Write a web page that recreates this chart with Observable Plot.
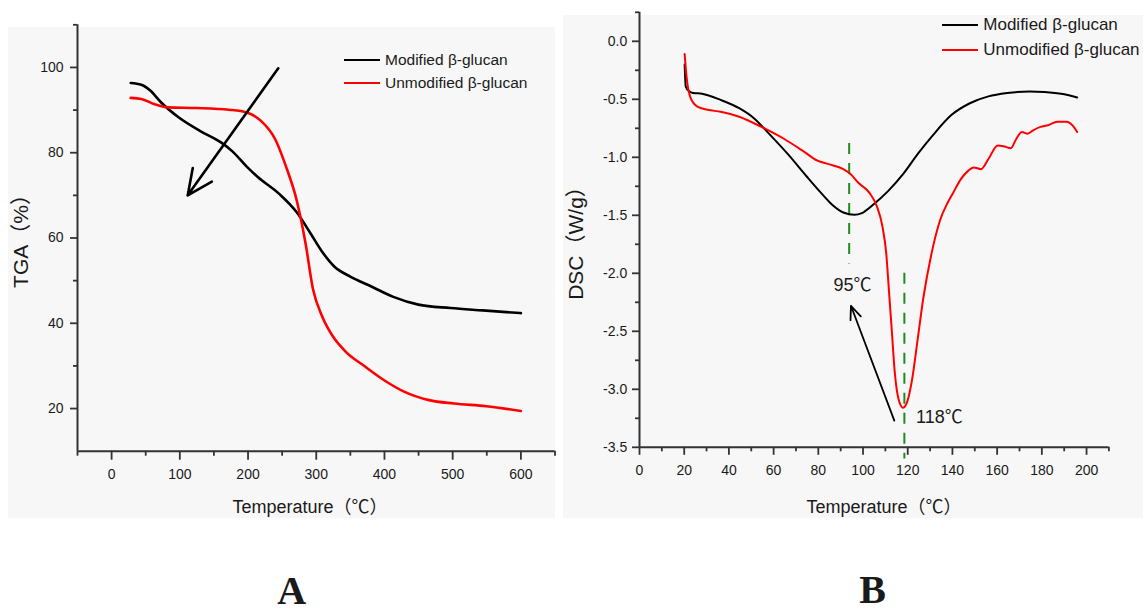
<!DOCTYPE html>
<html><head><meta charset="utf-8">
<script src="https://cdn.jsdelivr.net/npm/d3@7"></script>
<script src="https://cdn.jsdelivr.net/npm/@observablehq/plot@0.6"></script>
<style>
body{margin:0;background:#fff;}
#fig{position:relative;width:1143px;height:613px;overflow:hidden;font-family:"Liberation Sans",Arial,"Noto Sans CJK SC",sans-serif;color:#1a1a1a;}
.abs{position:absolute;}
.bg{position:absolute;background:#f7f7f7;}
.txt{position:absolute;white-space:nowrap;line-height:1;}
.sw{position:absolute;height:2px;}
.big{position:absolute;font-family:"Liberation Serif","Times New Roman",serif;font-weight:bold;font-size:40px;line-height:30px;}
</style></head><body><div id="fig"></div>
<script>
// ---------- Data: panel A (TGA) ----------
const tgaModT = [28, 43.5, 56.6, 72.3, 98.6, 130, 161.4, 177.1, 198.1, 213.8, 245.3, 271.4, 292.4, 308.1, 326.4, 350, 381.5, 413, 449.7, 496.8, 543.9, 600];
const tgaModV = [96.35, 95.95, 94.6, 91.83, 88.25, 85.08, 82.3, 80.32, 76.75, 74.37, 70.4, 66.03, 60.87, 56.9, 53.33, 50.95, 48.57, 46.19, 44.37, 43.57, 43.02, 42.38];
const tgaUnmodT = [28, 43.5, 61.9, 82.8, 124.8, 171.9, 198.1, 219, 240, 255.7, 271.4, 284.6, 295, 308.1, 323.8, 342.2, 371, 402.4, 428.7, 465.4, 502, 549.2, 600];
const tgaUnmodV = [92.86, 92.62, 91.43, 90.63, 90.48, 90.08, 89.44, 87.46, 83.1, 76.75, 68.81, 58.49, 48.17, 41.83, 37.06, 33.49, 29.92, 26.35, 23.97, 21.98, 21.19, 20.56, 19.44];
const tgaXTicks = [0, 100, 200, 300, 400, 500, 600];
const tgaXMinor = [-50, 50, 150, 250, 350, 450, 550, 650];
const tgaYTicks = [20, 40, 60, 80, 100];
const tgaYMinor = [30, 50, 70, 90, 110];
const tgaArrow = [{x1: 244.3, y1: 99.8, x2: 111.6, y2: 70.0}];

// ---------- Data: panel B (DSC) ----------
const dscModT = [20.2, 20.7, 22.2, 24, 28, 36.3, 44.6, 51.3, 57.9, 66.3, 74.6, 81.2, 86.2, 91.2, 96.2, 99.5, 104.5, 111.2, 117.9, 124.5, 131.2, 139.5, 147.8, 156.1, 164.5, 174.5, 181.1, 189.4, 195.8];
const dscModV = [-0.2, -0.39, -0.43, -0.445, -0.452, -0.505, -0.577, -0.665, -0.796, -0.971, -1.161, -1.307, -1.409, -1.476, -1.496, -1.481, -1.409, -1.292, -1.146, -0.971, -0.811, -0.636, -0.534, -0.475, -0.446, -0.432, -0.437, -0.455, -0.484];
const dscUnmodT = [20.2, 21.1, 22.9, 25.9, 30.4, 36.3, 44.6, 54.6, 64.6, 72.9, 79.6, 84.6, 91.2, 94.5, 97.9, 102.9, 106.2, 108.7, 110.4, 111.5, 112.9, 114.2, 115.9, 117.9, 119.9, 122.0, 124.5, 127, 130.3, 134.5, 137.8, 140.3, 143.7, 147.0, 149.5, 152.8, 156.1, 160.3, 162.8, 166.1, 168.6, 171.1, 173.6, 176.1, 179.4, 182.8, 186.9, 191.1, 193.6, 195.8];
const dscUnmodV = [-0.11, -0.315, -0.49, -0.563, -0.59, -0.607, -0.650, -0.738, -0.840, -0.942, -1.029, -1.059, -1.102, -1.146, -1.219, -1.307, -1.423, -1.598, -1.831, -2.123, -2.502, -2.852, -3.085, -3.158, -3.100, -2.910, -2.561, -2.211, -1.861, -1.540, -1.394, -1.307, -1.190, -1.117, -1.088, -1.102, -1.015, -0.898, -0.904, -0.922, -0.840, -0.782, -0.796, -0.767, -0.738, -0.723, -0.694, -0.694, -0.723, -0.782];
const dscXTicks = [0, 20, 40, 60, 80, 100, 120, 140, 160, 180, 200];
const dscXMinor = [10, 30, 50, 70, 90, 110, 130, 150, 170, 190, 210];
const dscYTicks = [-3.5, -3.0, -2.5, -2.0, -1.5, -1.0, -0.5, 0.0];
const dscYMinor = [-3.25, -2.75, -2.25, -1.75, -1.25, -0.75, -0.25, 0.25];
const dscPeaks = [{t: 93.8, v1: -0.88, v2: -1.92}, {t: 118.5, v1: -2.0, v2: -3.6}];
const dscPeakLabels = [{t: 86.8, v: -2.105, label: "95℃"}, {t: 123.7, v: -3.243, label: "118℃"}];
const dscArrow = [{x1: 114, y1: -3.27, x2: 94.6, y2: -2.28}];

const seriesNames = ["Modified β-glucan", "Unmodified β-glucan"];
const seriesColors = ["#000000", "#ff0000"];

const zip = (ts, vs) => ts.map((t, i) => ({t, v: vs[i]}));
const FONT = '"Liberation Sans", Arial, "Noto Sans CJK SC", sans-serif';
const AX = "#333";

const fig = document.getElementById("fig");
function add(html) { fig.insertAdjacentHTML("beforeend", html); }

add('<div class="bg" style="left:8px;top:27px;width:547px;height:491px"></div>');
add('<div class="bg" style="left:563px;top:15px;width:580px;height:503px"></div>');

const plotA = Plot.plot({
  width: 560, height: 530,
  marginLeft: 77, marginRight: 5.5, marginTop: 24.3, marginBottom: 79.3,
  x: {domain: [-50, 650]},
  y: {domain: [10, 110]},
  style: {background: "transparent", fontFamily: FONT, fontSize: "14px", color: "#1a1a1a", overflow: "visible"},
  marks: [
    Plot.axisX({ticks: tgaXTicks, tickSize: 9, tickPadding: 8.5, fontSize: 14, label: null, stroke: AX, strokeWidth: 1.8, tickFormat: d => String(d)}),
    Plot.axisX({ticks: tgaXMinor, tickSize: 5, tickFormat: () => "", label: null, stroke: AX, strokeWidth: 1.8}),
    Plot.axisY({ticks: tgaYTicks, tickSize: 7, tickPadding: 7, fontSize: 14, label: null, stroke: AX, strokeWidth: 1.8, tickFormat: d => String(d)}),
    Plot.axisY({ticks: tgaYMinor, tickSize: 4, tickFormat: () => "", label: null, stroke: AX, strokeWidth: 1.8}),
    Plot.ruleX([-50], {stroke: AX, strokeWidth: 2}),
    Plot.ruleY([10], {stroke: AX, strokeWidth: 2}),
    Plot.line(zip(tgaModT, tgaModV), {x: "t", y: "v", stroke: seriesColors[0], strokeWidth: 2.6, curve: "monotone-x"}),
    Plot.line(zip(tgaUnmodT, tgaUnmodV), {x: "t", y: "v", stroke: seriesColors[1], strokeWidth: 2.6, curve: "monotone-x"}),
    Plot.arrow(tgaArrow, {x1: "x1", y1: "y1", x2: "x2", y2: "y2", stroke: "#000", strokeWidth: 2.6, headLength: 16, headAngle: 50})
  ]
});
plotA.style.position = "absolute"; plotA.style.left = "0px"; plotA.style.top = "0px";
fig.append(plotA);

const plotB = Plot.plot({
  width: 583, height: 530,
  marginLeft: 79, marginRight: 34.6, marginTop: 11.8, marginBottom: 83.2,
  x: {domain: [0, 210]},
  y: {domain: [-3.5, 0.25]},
  style: {background: "transparent", fontFamily: FONT, fontSize: "14px", color: "#1a1a1a", overflow: "visible"},
  marks: [
    Plot.axisX({ticks: dscXTicks, tickSize: 8, tickPadding: 9.3, fontSize: 14, label: null, stroke: AX, strokeWidth: 1.8, tickFormat: d => String(d)}),
    Plot.axisX({ticks: dscXMinor, tickSize: 4.5, tickFormat: () => "", label: null, stroke: AX, strokeWidth: 1.8}),
    Plot.axisY({ticks: dscYTicks, tickSize: 7, tickPadding: 5.3, fontSize: 14, label: null, stroke: AX, strokeWidth: 1.8, tickFormat: d => d.toFixed(1)}),
    Plot.axisY({ticks: dscYMinor, tickSize: 4, tickFormat: () => "", label: null, stroke: AX, strokeWidth: 1.8}),
    Plot.ruleX([0], {stroke: AX, strokeWidth: 2}),
    Plot.ruleY([-3.5], {stroke: AX, strokeWidth: 2}),
    Plot.ruleX(dscPeaks, {x: "t", y1: "v1", y2: "v2", stroke: "#1e8c1e", strokeWidth: 2, strokeDasharray: "11,9"}),
    Plot.line(zip(dscModT, dscModV), {x: "t", y: "v", stroke: seriesColors[0], strokeWidth: 2, curve: "monotone-x"}),
    Plot.line(zip(dscUnmodT, dscUnmodV), {x: "t", y: "v", stroke: seriesColors[1], strokeWidth: 2, curve: "monotone-x"}),
    Plot.arrow(dscArrow, {x1: "x1", y1: "y1", x2: "x2", y2: "y2", stroke: "#000", strokeWidth: 1.8, headLength: 12, headAngle: 45}),
    Plot.text(dscPeakLabels, {x: "t", y: "v", text: "label", textAnchor: "start", fontSize: 18, fill: "#1a1a1a"})
  ]
});
plotB.style.position = "absolute"; plotB.style.left = "560px"; plotB.style.top = "0px";
fig.append(plotB);

// Legends
function legend(x0, x1, ys, tx, size) {
  seriesNames.forEach((name, i) => {
    add(`<div class="sw" style="left:${x0}px;top:${ys[i]-1}px;width:${x1-x0}px;background:${seriesColors[i]}"></div>`);
    add(`<div class="txt" style="left:${tx}px;top:${ys[i]}px;font-size:${size}px;transform:translateY(-52%)">${name}</div>`);
  });
}
legend(344, 380, [60.2, 83.4], 385, 15.5);
legend(941.7, 978.3, [25, 50], 983.3, 17);

// Axis titles
add('<div class="txt" style="left:310px;top:507px;font-size:18px;transform:translate(-50%,-50%)">Temperature（℃）</div>');
add('<div class="txt" style="left:884px;top:507px;font-size:18px;transform:translate(-50%,-50%)">Temperature（℃）</div>');
add('<div class="txt" style="left:19.6px;top:236px;font-size:21px;transform:translate(-50%,-50%) rotate(-90deg)">TGA（%）</div>');
add('<div class="txt" style="left:575px;top:238px;font-size:21px;transform:translate(-50%,-50%) rotate(-90deg)">DSC（W/g）</div>');

// Panel letters
add('<div class="big" style="left:291.7px;top:576px;transform:translateX(-50%)">A</div>');
add('<div class="big" style="left:872.5px;top:575px;transform:translateX(-50%)">B</div>');
</script></body></html>
